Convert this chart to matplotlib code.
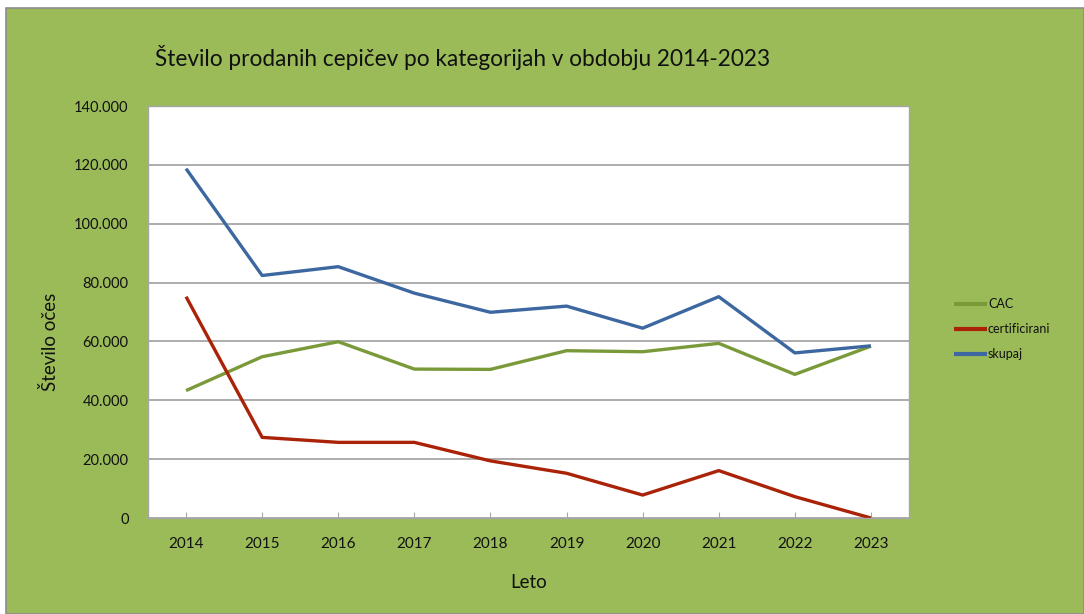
import matplotlib
matplotlib.use("Agg")
import matplotlib.pyplot as plt
from matplotlib.patches import Rectangle
from matplotlib.ticker import FuncFormatter, FixedLocator

years = [2014, 2015, 2016, 2017, 2018, 2019, 2020, 2021, 2022, 2023]
cac = [43300, 54800, 59900, 50600, 50500, 56850, 56500, 59350, 48800, 58400]
certificirani = [75200, 27400, 25700, 25700, 19400, 15200, 7800, 16100, 7250, 0]
skupaj = [118700, 82400, 85400, 76400, 69900, 72000, 64500, 75200, 56100, 58500]

title = "Število prodanih cepičev po kategorijah v obdobju 2014-2023"
ylabel = "Število očes"
xlabel = "Leto"

plt.rcParams['font.family'] = ['Lato', 'DejaVu Sans']

W, H = 1084, 614
fig = plt.figure(figsize=(W / 100, H / 100), dpi=100, facecolor='white')
bg = Rectangle((6 / W, 0), 1 - 6 / W, (H - 8) / H, transform=fig.transFigure,
               facecolor='#9BBB59', edgecolor='#8C8C8C', linewidth=1.2, zorder=-10)
fig.patches.append(bg)

ax = fig.add_axes([148 / W, (H - 518) / H, (909 - 148) / W, (518 - 106) / H])
ax.set_facecolor('white')

ax.plot(years, cac, color='#7A9A3A', lw=2.4, label='CAC', solid_capstyle='butt')
ax.plot(years, certificirani, color='#AA2208', lw=2.4, label='certificirani', solid_capstyle='butt')
ax.plot(years, skupaj, color='#3D67A0', lw=2.4, label='skupaj', solid_capstyle='butt')

ax.set_xlim(2013.5, 2023.5)
ax.set_ylim(0, 140000)
ax.set_yticks(range(0, 140001, 20000))
ax.yaxis.set_major_formatter(FuncFormatter(lambda v, p: '0' if v == 0 else f"{int(v):,}".replace(',', '.')))
ax.set_xticks(years)
ax.set_xticklabels([str(y) for y in years])
ax.xaxis.set_minor_locator(FixedLocator([2023.5]))
ax.grid(axis='y', color='#A6A6A6', lw=1.3)
ax.set_axisbelow(True)
for s in ax.spines.values():
    s.set_color('#A6A6A6')
    s.set_linewidth(1.0)
ax.tick_params(axis='x', which='both', direction='in', length=4, color='#A6A6A6',
               labelsize=11, pad=14, labelcolor='#111111')
ax.tick_params(axis='y', length=0, labelsize=10.5, pad=14, labelcolor='#111111')

ax.set_xlabel(xlabel, fontsize=13.5, labelpad=16, color='#111111')
fig.text(50 / W, 1 - 342 / H, ylabel, rotation=90, fontsize=13.5, ha='center', va='center', color='#111111')
fig.text(155 / W, 1 - 57 / H, title, fontsize=16.3, ha='left', va='center', color='#111111')

leg = fig.legend(loc='center left', bbox_to_anchor=(943 / W, 1 - 329 / H), frameon=False,
                 fontsize=9, handlelength=2.6, handletextpad=0.1, labelspacing=1.05)
for line in leg.get_lines():
    line.set_linewidth(3)
for t in leg.get_texts():
    t.set_color('#111111')

fig.savefig('out.png', dpi=100, facecolor='white')
